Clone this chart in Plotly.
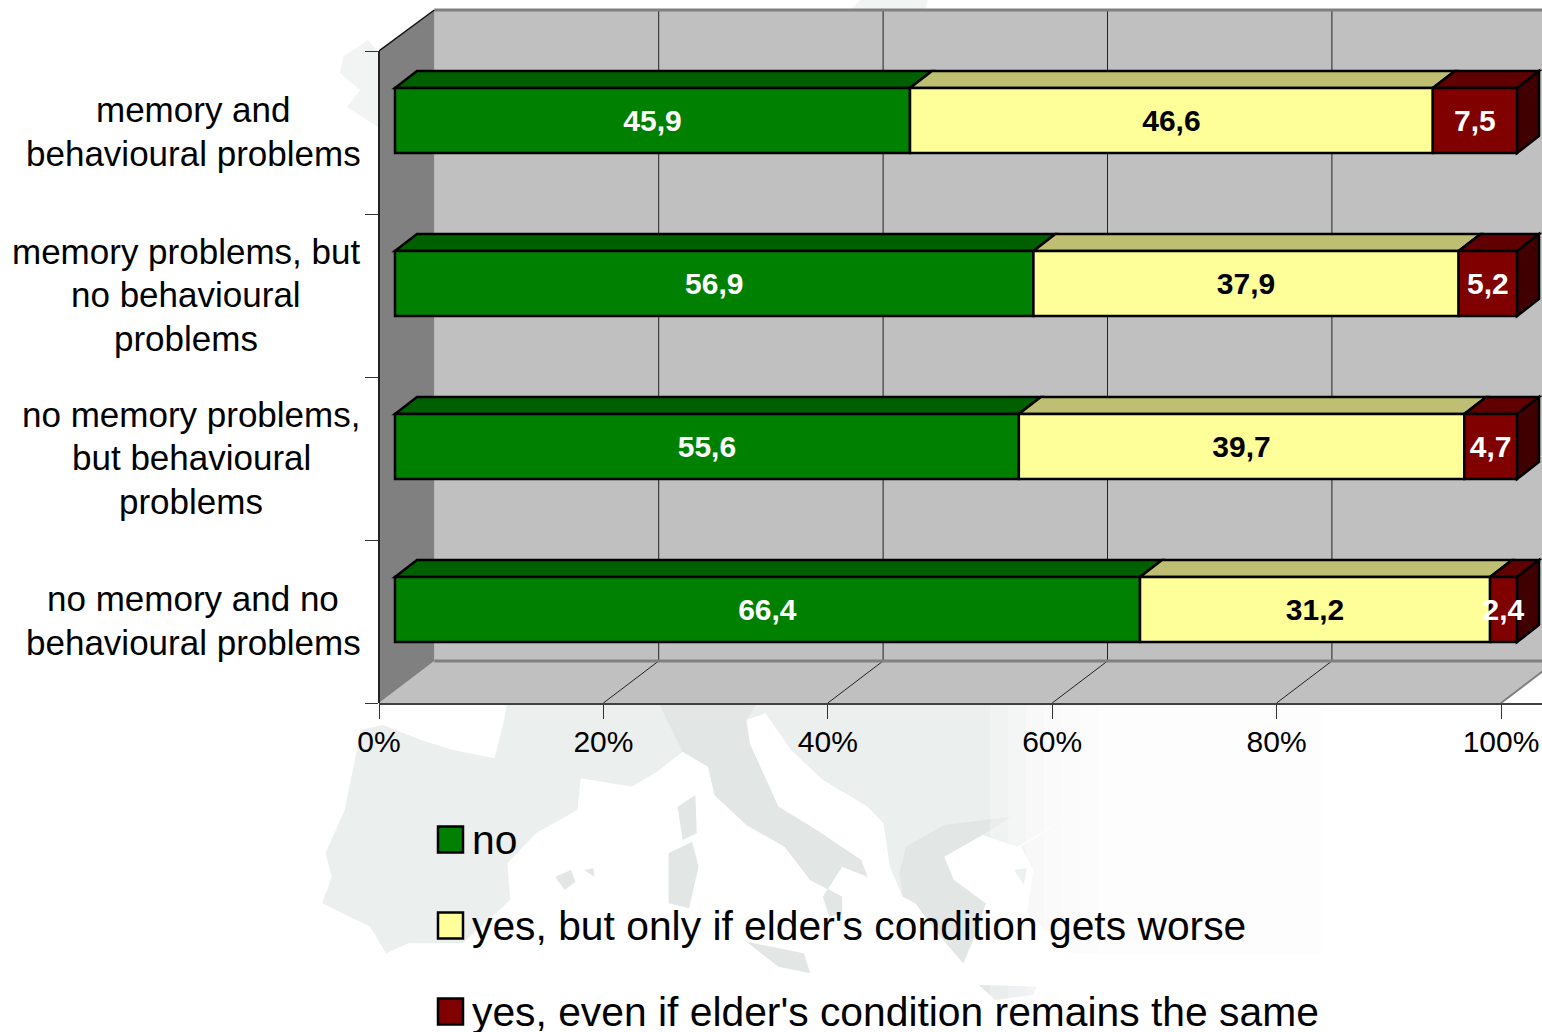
import plotly.graph_objects as go

category_lines = [["memory and", "behavioural problems"],
                  ["memory problems, but", "no behavioural", "problems"],
                  ["no memory problems,", "but behavioural", "problems"],
                  ["no memory and no", "behavioural problems"]]
label_centers = [193, 186, 191, 193]
series_names = ["no", "yes, but only if elder's condition gets worse",
                "yes, even if elder's condition remains the same"]
no_values = [45.9, 56.9, 55.6, 66.4]
worse_values = [46.6, 37.9, 39.7, 31.2]
same_values = [7.5, 5.2, 4.7, 2.4]
series_values = [no_values, worse_values, same_values]
front_colors = ["#008000", "#FFFF99", "#800000"]
top_colors = ["#006000", "#BFBF73", "#600000"]
side_color = "#400000"
text_colors = ["white", "black", "white"]
x_ticks = [0, 20, 40, 60, 80, 100]
x_tick_labels = ["0%", "20%", "40%", "60%", "80%", "100%"]

FONT = "Liberation Sans"
W, H = 1542, 1032
X0, PXU = 379, 11.22          # pixel of 0 % and pixels per unit
FLOOR, BAND = 703, 163        # pixel of axis line, band height
WALL_DX, WALL_DY = 4.93, 42 / BAND
BAR_INSET = 16 / PXU
BAR_LIFT = 12 / BAND
BAR_W = 65 / BAND
BAR_DX, BAR_DY = 22 / PXU, 17 / BAND
Y_BOTTOM, Y_TOP = -0.5, -0.5 + FLOOR / BAND
X_MAX = (W - X0) / PXU


def px(x):
    return (x - X0) / (W - X0)


def py(y):
    return (FLOOR - y) / FLOOR


def poly(points, fill, line=None, lw=0, ref="xy", layer="below"):
    path = "M" + " L".join(f"{a:.4f},{b:.4f}" for a, b in points) + " Z"
    xr, yr = ("x", "y") if ref == "xy" else ("paper", "paper")
    return dict(type="path", path=path, xref=xr, yref=yr, fillcolor=fill, layer=layer,
                line=dict(color=line or "rgba(0,0,0,0)", width=lw))


def seg(x0, y0, x1, y1, color, w):
    return dict(type="line", x0=x0, y0=y0, x1=x1, y1=y1, xref="x", yref="y", layer="below",
                line=dict(color=color, width=w))


def zoom_pts(pts):
    return [(px(300 + a / 1.568), py(700 + b / 3)) for a, b in pts]


shapes = []

# faint background map (decorative watermark)
LAND, LAND2, LAND3 = "#ebefee", "#e2e7e6", "#f2f4f4"
main_land = [(330, -60), (320, 60), (305, 175), (240, 150), (190, 120), (130, 75), (95, 90), (85, 190), (70, 330),
             (40, 460), (50, 530), (35, 610), (110, 680), (135, 760), (170, 730), (255, 730), (330, 600), (325, 490),
             (370, 400), (435, 330), (440, 235), (520, 260), (560, 215), (600, 155), (640, 200), (650, 285), (700, 375),
             (760, 440), (800, 540), (850, 590), (850, 640), (830, 650), (820, 590), (850, 500), (890, 530), (880, 480),
             (810, 390), (750, 320), (705, 130), (700, 60), (730, 40), (770, 150), (820, 240), (890, 320), (915, 370),
             (925, 500), (945, 590), (965, 610), (1000, 700), (1040, 790), (1060, 700), (1075, 610), (1025, 540),
             (1010, 470), (1070, 405), (1125, 440), (1210, 345), (1130, 440), (1150, 510), (1140, 640), (1210, 760),
             (1600, 760), (1600, -60)]
shapes.append(poly(zoom_pts(main_land), LAND, ref="paper"))
italy = [(560, 0), (600, 155), (640, 200), (650, 285), (700, 375), (760, 440), (800, 540), (850, 590), (850, 640),
         (830, 650), (820, 590), (850, 500), (890, 530), (880, 480), (810, 390), (750, 320), (705, 130), (700, 60),
         (720, 0)]
greece = [(945, 590), (965, 610), (1000, 700), (1040, 790), (1060, 700), (1075, 610), (1025, 540), (1010, 470),
          (1070, 405), (1115, 350), (1010, 375), (950, 440), (940, 520)]
for p in (italy, greece):
    shapes.append(poly(zoom_pts(p), LAND2, ref="paper"))
islands = [[(592, 320), (620, 285), (622, 400), (600, 420)],
           [(578, 460), (615, 425), (625, 500), (610, 625), (578, 610)],
           [(400, 530), (425, 510), (432, 545), (415, 570)],
           [(445, 510), (460, 505), (462, 530)],
           [(700, 725), (790, 760), (800, 820), (750, 800)],
           [(1065, 855), (1155, 860), (1150, 885), (1090, 900)],
           [(1120, 510), (1140, 505), (1135, 555)]]
for p in islands:
    shapes.append(poly(zoom_pts(p), LAND2, ref="paper"))
# white fade towards the right edge of the map
for i in range(16):
    shapes.append(dict(type="rect", xref="paper", yref="paper", layer="below", x0=px(990 + i * 18), x1=px(1542),
                       y0=py(1032), y1=py(703), fillcolor="rgba(255,255,255,0.25)", line=dict(width=0)))
north = [[(343, 57), (368, 40), (378, 52), (378, 127), (347, 107), (360, 90), (340, 73)],
         [(850, 10), (860, 0), (928, 0), (925, 10)]]
for p in north:
    shapes.append(poly([(px(a), py(b)) for a, b in p], LAND3, ref="paper"))

# walls and floor
wall_top = Y_BOTTOM + 4 + WALL_DY - 1 / BAND
shapes.append(poly([(WALL_DX, Y_BOTTOM + WALL_DY), (X_MAX + 1, Y_BOTTOM + WALL_DY), (X_MAX + 1, wall_top),
                    (WALL_DX, wall_top)], "#C0C0C0"))
shapes.append(poly([(0, Y_BOTTOM), (100, Y_BOTTOM), (100 + WALL_DX, Y_BOTTOM + WALL_DY),
                    (WALL_DX, Y_BOTTOM + WALL_DY)], "#C0C0C0"))
shapes.append(poly([(0, Y_BOTTOM), (0, Y_BOTTOM + 4), (WALL_DX, wall_top), (WALL_DX, Y_BOTTOM + WALL_DY)], "#808080"))
for t in x_ticks[1:-1]:
    shapes.append(seg(t + WALL_DX, Y_BOTTOM + WALL_DY, t + WALL_DX, wall_top, "#222222", 1))
    shapes.append(seg(t, Y_BOTTOM, t + WALL_DX, Y_BOTTOM + WALL_DY, "#222222", 1))
shapes.append(seg(100, Y_BOTTOM, 100 + WALL_DX, Y_BOTTOM + WALL_DY, "#808080", 2))
shapes.append(seg(WALL_DX, Y_BOTTOM + WALL_DY, X_MAX + 1, Y_BOTTOM + WALL_DY, "#808080", 3))
shapes.append(seg(WALL_DX, wall_top, X_MAX + 1, wall_top, "#808080", 3))
shapes.append(seg(0, Y_BOTTOM + 4, WALL_DX, wall_top, "#111111", 1.5))
shapes.append(dict(type="line", xref="paper", yref="paper", x0=0, x1=0, y0=0, y1=py(FLOOR - 4 * BAND), layer="above",
                   line=dict(color="#222222", width=2)))

positions = [len(category_lines) - 1 - i + BAR_LIFT for i in range(len(category_lines))]
traces = []
cum = [BAR_INSET] * len(category_lines)
for s, vals in enumerate(series_values):
    bases = list(cum)
    for yc, b, v in zip(positions, bases, vals):
        yt = yc + BAR_W / 2
        shapes.append(poly([(b, yt), (b + BAR_DX, yt + BAR_DY), (b + v + BAR_DX, yt + BAR_DY), (b + v, yt)],
                           top_colors[s], "black", 2.5))
        if s == len(series_values) - 1:
            yb = yc - BAR_W / 2
            shapes.append(poly([(b + v, yb), (b + v, yt), (b + v + BAR_DX, yt + BAR_DY),
                                (b + v + BAR_DX, yb + BAR_DY)], side_color, "black", 2.5))
    traces.append(go.Bar(
        y=positions, x=vals, base=bases, orientation="h", width=BAR_W, name=series_names[s],
        marker=dict(color=front_colors[s], line=dict(color="black", width=2.5)),
        text=[f"{v:.1f}".replace(".", ",") for v in vals], textposition="inside", insidetextanchor="middle",
        constraintext="none", textangle=0, cliponaxis=False, showlegend=False,
        textfont=dict(family=FONT, size=30, color=text_colors[s], weight="bold"),
    ))
    cum = [c + v for c, v in zip(cum, vals)]

annotations = []
LINE_PITCH = 43.5 / BAND
for i, (lines, cx) in enumerate(zip(category_lines, label_centers)):
    band_y = len(category_lines) - 1 - i
    for j, t in enumerate(lines):
        ly = band_y + ((len(lines) - 1) / 2 - j) * LINE_PITCH + 1 / BAND
        annotations.append(dict(text=t, x=px(cx), xref="paper", y=ly, yref="y", xanchor="center", yanchor="middle",
                                showarrow=False, font=dict(family=FONT, size=35, color="black")))

# legend built from the series names and colours
for i, (n, col) in enumerate(zip(series_names, front_colors)):
    cy = 839.5 + i * 86
    shapes.append(dict(type="rect", xref="paper", yref="paper", x0=px(438), x1=px(463), y0=py(cy - 13), y1=py(cy + 13),
                       fillcolor=col, line=dict(color="black", width=2.5), layer="above"))
    annotations.append(dict(text=n, x=px(470), y=py(cy), xref="paper", yref="paper", xanchor="left", yanchor="middle",
                            showarrow=False, font=dict(family=FONT, size=40.8, color="black")))

fig = go.Figure(traces)
fig.update_layout(
    width=W, height=H, autosize=False, barmode="overlay", showlegend=False,
    paper_bgcolor="white", plot_bgcolor="rgba(0,0,0,0)",
    margin=dict(l=X0, r=0, t=0, b=H - FLOOR, pad=0),
    shapes=shapes, annotations=annotations,
    xaxis=dict(range=[0, X_MAX], tickvals=x_ticks, ticktext=x_tick_labels, ticks="outside", ticklen=14, tickwidth=1,
               tickcolor="#333333", showgrid=False, zeroline=False, showline=True, linecolor="#404040", linewidth=2,
               ticklabelstandoff=-3, tickfont=dict(family=FONT, size=30, color="black")),
    yaxis=dict(range=[Y_BOTTOM, Y_TOP], tickvals=[-0.5, 0.5, 1.5, 2.5, 3.5], showticklabels=False, ticks="outside",
               ticklen=13, tickwidth=1, tickcolor="#333333", showgrid=False, zeroline=False, showline=False),
)
fig.write_html("out.html", config={"displayModeBar": False},
               post_script="document.body.style.margin='0';document.documentElement.style.overflow='hidden';")
